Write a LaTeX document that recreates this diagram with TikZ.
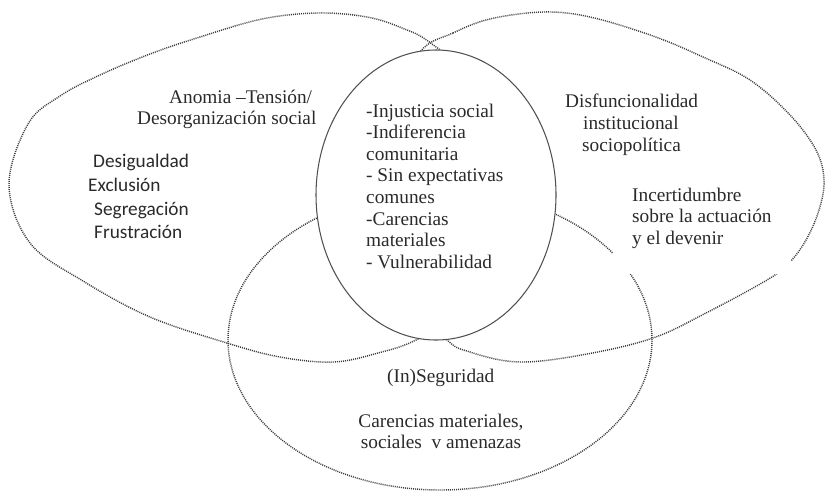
\documentclass[tikz,border=0pt]{standalone}
\usepackage{fontspec}
\setmainfont{Liberation Serif}
\newfontfamily\calfont{Carlito}
\definecolor{linecol}{HTML}{3C3C3C}
\definecolor{corecol}{HTML}{505050}
\definecolor{txtcol}{HTML}{2A2A2A}
\begin{document}
\begin{tikzpicture}[x=1pt,y=-1pt,
  dotline/.style={draw=linecol, line width=1.45pt, dash pattern=on 1pt off 1.05pt},
  coreline/.style={draw=corecol, line width=1.05pt, fill=white},
  ser/.style={anchor=base west, inner sep=0pt, text=txtcol, font=\fontsize{19.3}{21.6}\selectfont},
  serc/.style={anchor=base, inner sep=0pt, text=txtcol, font=\fontsize{19.3}{21.6}\selectfont},
  sans/.style={anchor=base west, inner sep=0pt, text=txtcol, font=\calfont\fontsize{19.3}{23.7}\selectfont}]
\useasboundingbox (0,0) rectangle (826,496);

% left oval
\draw[dotline] plot[smooth cycle, tension=0.6] coordinates {
 (9,185) (28,124) (60,96) (100,75) (150,54) (200,37) (262,19) (318,13) (367,17) (402,28) (432,44)
 (490,95) (525,190) (490,295) (420,338) (378,353) (333,362) (280,357) (227,343) (150,317) (83,281) (30,243)};
% right oval
\draw[dotline] plot[smooth cycle, tension=0.6] coordinates {
 (420,52) (453,33) (490,19) (543,12) (590,17) (653,36) (703,57) (750,80) (790,115) (816,150) (824,180)
 (819,210) (806,240) (789,263) (767,280) (706,313) (653,338) (587,354) (520,362) (470,352) (445,338)
 (400,285) (380,195) (392,110)};
% bottom oval
\draw[dotline] (440,340) ellipse [x radius=212pt, y radius=150pt];
% central ellipse
\filldraw[coreline] (436,195) ellipse [x radius=120pt, y radius=145pt];

% left texts
\node[ser] (a1) at (169,103.5) {Anomia –Tensión/};
\node[ser] (a2) at (137,124.5) {Desorganización social};
\node[sans] (s1) at (93,167) {Desigualdad};
\node[sans] (s2) at (88,191) {Exclusión};
\node[sans] (s3) at (94,215) {Segregación};
\node[sans] (s4) at (94,238) {Frustración};

% central texts
\node[ser] (c1) at (366,117) {-Injusticia social};
\node[ser] (c2) at (366,138.6) {-Indiferencia};
\node[ser] (c3) at (366,160.2) {comunitaria};
\node[ser] (c4) at (366,181.8) {- Sin expectativas};
\node[ser] (c5) at (366,203.4) {comunes};
\node[ser] (c6) at (366,225) {-Carencias};
\node[ser] (c7) at (366,246.6) {materiales};
\node[ser] (c8) at (366,268.2) {- Vulnerabilidad};

% right texts
\node[ser] (d1) at (565,107.5) {Disfuncionalidad};
\node[ser] (d2) at (583,129) {institucional};
\node[ser] (d3) at (582,151) {sociopolítica};
\node[fill=white, anchor=north west, inner xsep=19pt, inner ysep=26pt, align=left,
      text=txtcol, font=\fontsize{19.3}{21.5}\selectfont] (inc) at (613,160)
      {\rule{0pt}{15pt}Incertidumbre\\sobre la actuación\\y el devenir};

% bottom texts
\node[ser] (g1) at (387,382) {(In)Seguridad};
\node[serc] (g2) at (441,427) {Carencias materiales,};
\node[serc] (g3) at (441,448) {sociales\ \ v amenazas};
\end{tikzpicture}
\end{document}
